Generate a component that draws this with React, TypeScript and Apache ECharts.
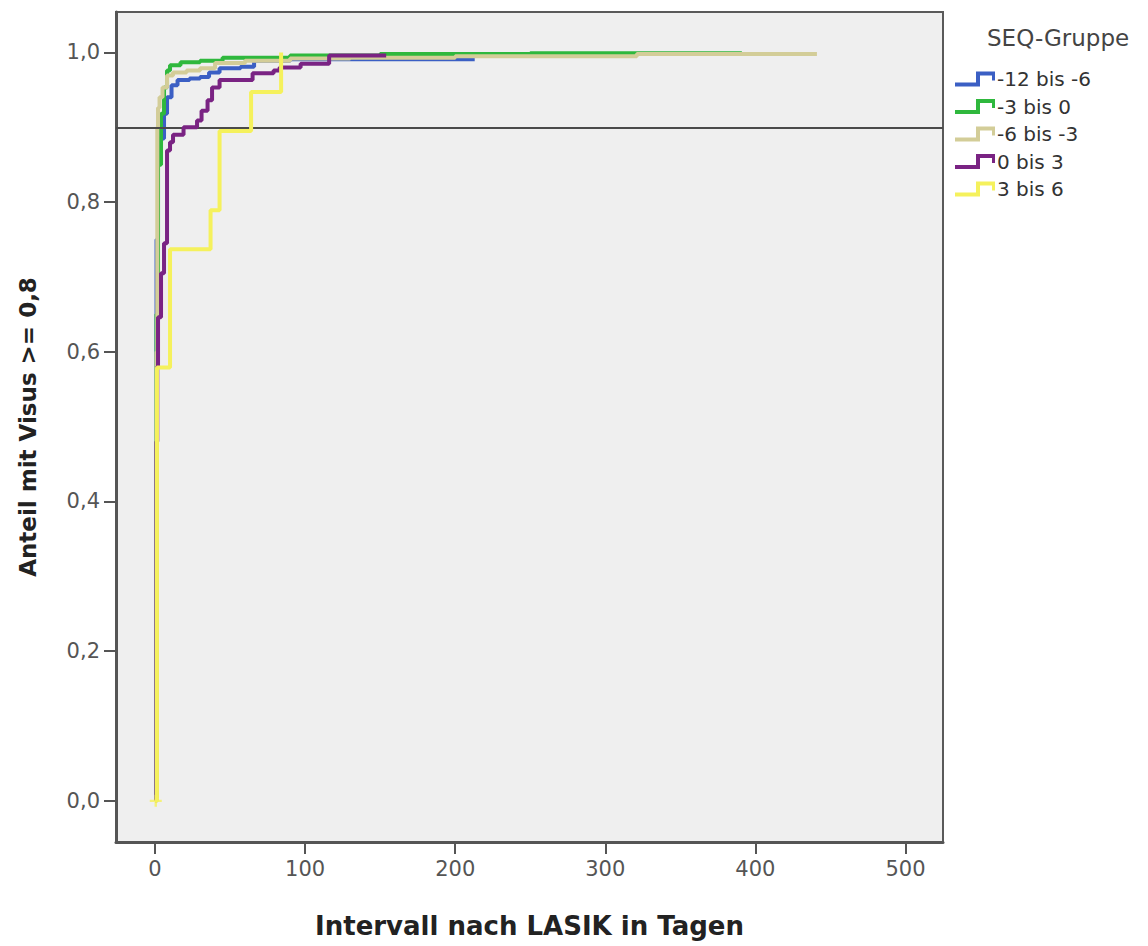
import React, { useEffect, useRef } from "react";
import * as echarts from "echarts";

const seriesNames = ["-12 bis -6", "-3 bis 0", "-6 bis -3", "0 bis 3", "3 bis 6"];
const seriesColors = ["#3b5fc4", "#2fb83d", "#d3cd98", "#7a2383", "#f5f15c"];

const blue: number[][] = [
  [0, 0], [1, 0.75], [2, 0.86], [3, 0.885], [6, 0.918], [8, 0.94], [11, 0.956], [15, 0.963],
  [23, 0.965], [30, 0.967], [36, 0.973], [43, 0.979], [57, 0.981], [66, 0.989], [90, 0.991],
  [180, 0.991], [213, 0.991],
];
const green: number[][] = [
  [0, 0], [1, 0.65], [2, 0.85], [4, 0.918], [6, 0.953], [8, 0.976], [10, 0.983], [17, 0.987],
  [30, 0.989], [45, 0.993], [90, 0.996], [150, 0.998], [250, 0.999], [391, 0.999],
];
const beige: number[][] = [
  [0, 0], [1, 0.6], [1.5, 0.9], [2, 0.926], [3, 0.94], [5, 0.953], [8, 0.969], [12, 0.973],
  [21, 0.976], [30, 0.979], [40, 0.986], [60, 0.989], [90, 0.992], [130, 0.993], [200, 0.995],
  [321, 0.998], [441, 0.998],
];
const purple: number[][] = [
  [0, 0], [1, 0.48], [1.5, 0.58], [2, 0.646], [4, 0.705], [6, 0.745], [8, 0.869], [10, 0.88],
  [12, 0.89], [19, 0.9], [28, 0.909], [31, 0.922], [35, 0.936], [38, 0.953], [43, 0.963],
  [65, 0.972], [79, 0.976], [83, 0.98], [97, 0.985], [116, 0.996], [154, 0.996],
];
const yellow: number[][] = [
  [0, 0], [1.3, 0.579], [10, 0.737], [37, 0.789], [43, 0.895], [64, 0.947], [84, 1.0],
];
const censored: number[][] = [[0.5, 0]];

const xTicks = [0, 100, 200, 300, 400, 500];
const yTicks = [0, 0.2, 0.4, 0.6, 0.8, 1.0];
const referenceLevel = 0.9;

const FONT = "'DejaVu Sans', Verdana, sans-serif";
const STEP_ICON =
  "path://M0,11 L21,11 L21,0 L40,0 L40,9 L37,9 L37,4 L25,4 L25,15 L0,15 Z";
const PLUS =
  "path://M4,0 L6,0 L6,4 L10,4 L10,6 L6,6 L6,10 L4,10 L4,6 L0,6 L0,4 L4,4 Z";

export default function App() {
  const ref = useRef<HTMLDivElement>(null);
  useEffect(() => {
    if (!ref.current) return;
    const chart = echarts.init(ref.current, undefined, { renderer: "svg" });
    const datasets = [blue, green, beige, purple, yellow];
    const lineSeries: any[] = datasets.map((d, i) => ({
      name: seriesNames[i],
      type: "line",
      step: "end",
      data: d,
      showSymbol: false,
      symbol: "none",
      color: seriesColors[i],
      itemStyle: { color: seriesColors[i] },
      lineStyle: { color: seriesColors[i], width: 4 },
      z: 2 + i,
    }));
    lineSeries[4].markLine = {
      silent: true,
      symbol: "none",
      label: { show: false },
      lineStyle: { color: "#4a4a4a", width: 2, type: "solid" },
      data: [{ yAxis: referenceLevel }],
    };
    lineSeries.push({
      name: "censored",
      type: "scatter",
      data: censored,
      symbol: PLUS,
      symbolSize: 12,
      itemStyle: { color: seriesColors[4] },
      z: 10,
    });
    chart.setOption({
      animation: false,
      textStyle: { fontFamily: FONT },
      grid: {
        left: 116,
        top: 12,
        right: 205,
        bottom: 104,
        show: true,
        backgroundColor: "#efefef",
        borderColor: "#5a5a5a",
        borderWidth: 2,
      },
      xAxis: {
        type: "value",
        min: -26,
        max: 525,
        splitLine: { show: false },
        axisLine: { show: true, onZero: false, lineStyle: { color: "#555", width: 3 } },
        axisTick: { show: true, length: 12, customValues: xTicks, lineStyle: { color: "#555", width: 2 } },
        axisLabel: { customValues: xTicks, color: "#555", fontSize: 21, margin: 16, fontFamily: FONT },
        name: "Intervall nach LASIK in Tagen",
        nameLocation: "middle",
        nameGap: 71,
        nameTextStyle: { fontSize: 26, fontWeight: "bold", color: "#222", fontFamily: FONT },
      },
      yAxis: {
        type: "value",
        min: -0.055,
        max: 1.054,
        splitLine: { show: false },
        axisLine: { show: true, onZero: false, lineStyle: { color: "#555", width: 3 } },
        axisTick: { show: true, length: 12, customValues: yTicks, lineStyle: { color: "#555", width: 2 } },
        axisLabel: {
          customValues: yTicks,
          color: "#555",
          fontSize: 21,
          margin: 16,
          fontFamily: FONT,
          formatter: (v: number) => v.toFixed(1).replace(".", ","),
        },
        name: "Anteil mit Visus >= 0,8",
        nameLocation: "middle",
        nameGap: 77,
        nameTextStyle: { fontSize: 23, fontWeight: "bold", color: "#222", fontFamily: FONT },
      },
      legend: {
        data: seriesNames.map((n) => ({ name: n, icon: STEP_ICON })),
        orient: "vertical",
        left: 950,
        top: 64,
        itemWidth: 40,
        itemHeight: 15,
        itemGap: 7.5,
        selectedMode: false,
        textStyle: { fontSize: 20, color: "#333", fontFamily: FONT, padding: [0, 0, 0, -3] },
      },
      graphic: [
        {
          type: "text",
          left: 987,
          top: 26,
          style: { text: "SEQ-Gruppe", fontSize: 23, fill: "#444", fontFamily: FONT },
        },
      ],
      series: lineSeries,
    });
    return () => chart.dispose();
  }, []);
  return (
    <div
      ref={ref}
      style={{ position: "fixed", left: 0, top: 0, width: 1148, height: 946, background: "#fff" }}
    />
  );
}
